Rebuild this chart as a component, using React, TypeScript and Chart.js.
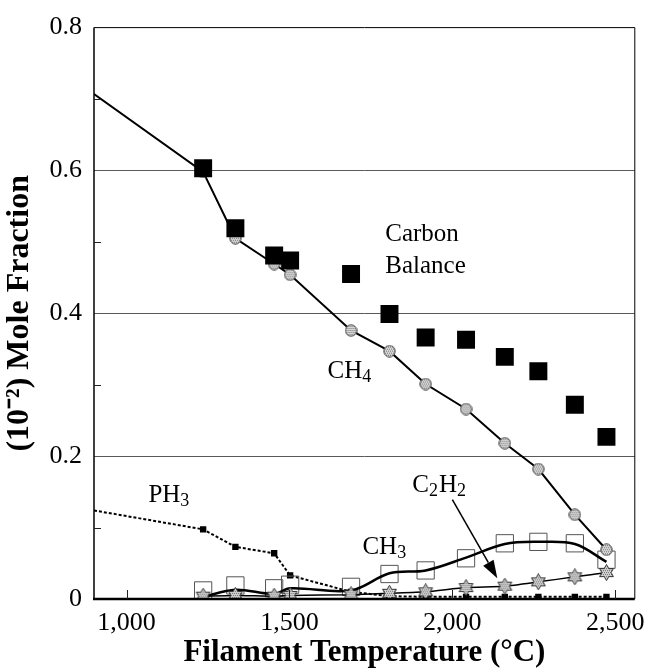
import React, { useEffect, useRef } from 'react';
import { Chart, registerables } from 'chart.js';

Chart.register(...registerables);

// ---------- data ----------
const TEMPERATURES = [1235, 1334, 1453, 1502, 1689, 1807, 1918, 2042, 2161, 2264, 2376, 2473];
const CARBON_BALANCE = [0.603, 0.519, 0.481, 0.474, 0.455, 0.399, 0.366, 0.363, 0.339, 0.319, 0.272, 0.227];
const CH4 = [0.598, 0.505, 0.469, 0.454, 0.376, 0.347, 0.301, 0.266, 0.218, 0.182, 0.118, 0.069];
const CH4_EXTRAPOLATED_T = 900;
const CH4_EXTRAPOLATED_V = 0.707;
const PH3 = [0.0975, 0.073, 0.064, 0.033, 0.010, 0.004, 0.003, 0.003, 0.003, 0.003, 0.003, 0.003];
const PH3_EXTRAPOLATED_T = 900;
const PH3_EXTRAPOLATED_V = 0.124;
const CH3 = [0.012, 0.019, 0.015, 0.020, 0.017, 0.035, 0.040, 0.057, 0.078, 0.080, 0.078, 0.055];
const CH3_CURVE = [0.003, 0.013, 0.007, 0.015, 0.012, 0.036, 0.040, 0.058, 0.077, 0.080, 0.077, 0.052];
const C2H2 = [0.004, 0.005, 0.004, 0.005, 0.006, 0.008, 0.010, 0.016, 0.018, 0.024, 0.031, 0.037];

const X_TICKS = [1000, 1500, 2000, 2500];
const Y_TICKS = [0, 0.2, 0.4, 0.6, 0.8];
const Y_MINOR_TICKS = [0.1, 0.3, 0.5, 0.7];

const X_TITLE = 'Filament Temperature (°C)';
const Y_TITLE = '(10⁻²) Mole Fraction';

// text labels: [text, isSubscript] pieces, anchored (left, middle) in data units
const LABELS = [
  { parts: [['Carbon', false]], t: 1794, v: 0.51 },
  { parts: [['Balance', false]], t: 1794, v: 0.466 },
  { parts: [['CH', false], ['4', true]], t: 1617, v: 0.319 },
  { parts: [['PH', false], ['3', true]], t: 1067, v: 0.145 },
  { parts: [['CH', false], ['3', true]], t: 1724, v: 0.072 },
  { parts: [['C', false], ['2', true], ['H', false], ['2', true]], t: 1877, v: 0.159 },
];
const ARROW = { fromT: 2000, fromV: 0.139, toT: 2138, toV: 0.029 };

const SERIF = '"Liberation Serif", "Times New Roman", serif';

function stipple(g: CanvasRenderingContext2D, size: number, dark: string) {
  g.fillStyle = dark;
  for (let y = 0; y < size; y += 2) {
    for (let x = (y / 2) % 2 === 0 ? 0 : 1; x < size; x += 2) g.fillRect(x, y, 1, 1);
  }
}

function makeStar(size: number) {
  const c = document.createElement('canvas');
  c.width = size;
  c.height = size;
  const g = c.getContext('2d')!;
  const cx = size / 2, cy = size / 2, R = size / 2 - 0.5, r = R / Math.sqrt(3);
  g.beginPath();
  for (let i = 0; i < 12; i++) {
    const a = -Math.PI / 2 + (i * Math.PI) / 6;
    const rad = i % 2 === 0 ? R : r;
    g.lineTo(cx + rad * Math.cos(a), cy + rad * Math.sin(a));
  }
  g.closePath();
  g.fillStyle = '#d0d0d0';
  g.fill();
  g.save();
  g.clip();
  stipple(g, size, '#707070');
  g.restore();
  g.strokeStyle = '#333';
  g.lineWidth = 1;
  g.stroke();
  return c;
}

function makeCircle(size: number) {
  const c = document.createElement('canvas');
  c.width = size;
  c.height = size;
  const g = c.getContext('2d')!;
  g.beginPath();
  g.arc(size / 2, size / 2, size / 2 - 0.8, 0, Math.PI * 2);
  g.fillStyle = '#d6d6d6';
  g.fill();
  g.save();
  g.clip();
  stipple(g, size, '#7a7a7a');
  g.restore();
  g.strokeStyle = '#444';
  g.lineWidth = 1;
  g.stroke();
  return c;
}

const decorPlugin = {
  id: 'decor',
  afterDatasetsDraw(chart: any) {
    const { ctx, chartArea, scales } = chart;
    const xs = scales.x, ys = scales.y;
    ctx.save();
    // frame
    ctx.strokeStyle = '#000';
    ctx.lineWidth = 1;
    ctx.beginPath();
    ctx.moveTo(chartArea.left, chartArea.top);
    ctx.lineTo(chartArea.right, chartArea.top);
    ctx.lineTo(chartArea.right, chartArea.bottom);
    ctx.stroke();
    ctx.lineWidth = 1.5;
    ctx.beginPath();
    ctx.moveTo(chartArea.left, chartArea.top);
    ctx.lineTo(chartArea.left, chartArea.bottom);
    ctx.stroke();
    ctx.lineWidth = 2.5;
    ctx.beginPath();
    ctx.moveTo(chartArea.left - 1, chartArea.bottom);
    ctx.lineTo(chartArea.right, chartArea.bottom);
    ctx.stroke();
    // inward ticks
    ctx.lineWidth = 1;
    ctx.strokeStyle = '#222';
    ctx.beginPath();
    for (const v of Y_MINOR_TICKS) {
      const y = Math.round(ys.getPixelForValue(v)) + 0.5;
      ctx.moveTo(chartArea.left, y);
      ctx.lineTo(chartArea.left + 7, y);
    }
    for (const t of X_TICKS) {
      const x = Math.round(xs.getPixelForValue(t)) + 0.5;
      ctx.moveTo(x, chartArea.bottom);
      ctx.lineTo(x, chartArea.bottom - 9);
    }
    ctx.stroke();

    // labels
    ctx.fillStyle = '#000';
    ctx.textBaseline = 'middle';
    ctx.textAlign = 'left';
    for (const lab of LABELS) {
      let x = xs.getPixelForValue(lab.t);
      const y = ys.getPixelForValue(lab.v);
      for (const [txt, sub] of lab.parts as [string, boolean][]) {
        ctx.font = sub ? `18px ${SERIF}` : `25px ${SERIF}`;
        ctx.fillText(txt, x, sub ? y + 6 : y);
        x += ctx.measureText(txt).width + (sub ? 1 : 0);
      }
    }

    // arrow
    const x1 = xs.getPixelForValue(ARROW.fromT), y1 = ys.getPixelForValue(ARROW.fromV);
    const x2 = xs.getPixelForValue(ARROW.toT), y2 = ys.getPixelForValue(ARROW.toV);
    const ang = Math.atan2(y2 - y1, x2 - x1);
    const headLen = 18, headW = 6;
    const bx = x2 - headLen * Math.cos(ang), by = y2 - headLen * Math.sin(ang);
    ctx.strokeStyle = '#000';
    ctx.lineWidth = 1.5;
    ctx.beginPath();
    ctx.moveTo(x1, y1);
    ctx.lineTo(bx, by);
    ctx.stroke();
    ctx.beginPath();
    ctx.moveTo(x2, y2);
    ctx.lineTo(bx + headW * Math.sin(ang), by - headW * Math.cos(ang));
    ctx.lineTo(bx - headW * Math.sin(ang), by + headW * Math.cos(ang));
    ctx.closePath();
    ctx.fill();
    ctx.restore();
  },
};

export default function App() {
  const ref = useRef<HTMLCanvasElement | null>(null);

  useEffect(() => {
    if (!ref.current) return;
    const star = makeStar(17);
    const circle = makeCircle(13);
    const pts = (vals: number[]) => TEMPERATURES.map((t, i) => ({ x: t, y: vals[i] }));

    const chart = new Chart(ref.current, {
      type: 'scatter',
      data: {
        datasets: [
          {
            label: 'Carbon Balance',
            data: pts(CARBON_BALANCE),
            showLine: false,
            pointStyle: 'rect',
            pointRadius: 12.7,
            backgroundColor: '#000',
            borderColor: '#000',
            borderWidth: 0,
          },
          {
            label: 'CH4',
            data: [{ x: CH4_EXTRAPOLATED_T, y: CH4_EXTRAPOLATED_V }, ...pts(CH4)],
            showLine: true,
            borderColor: '#000',
            borderWidth: 2,
            pointStyle: circle as any,
            pointRadius: (c: any) => (c.dataIndex === 0 ? 0 : 6),
            tension: 0,
          },
          {
            label: 'C2H2',
            data: pts(C2H2),
            showLine: true,
            borderColor: '#000',
            borderWidth: 1.5,
            pointStyle: star as any,
            pointRadius: 8,
            tension: 0.2,
          },
          {
            label: 'CH3 curve',
            data: pts(CH3_CURVE),
            showLine: true,
            borderColor: '#000',
            borderWidth: 2.5,
            pointRadius: 0,
            tension: 0.35,
          },
          {
            label: 'CH3',
            data: pts(CH3),
            showLine: false,
            pointStyle: 'rect',
            pointRadius: 12.2,
            backgroundColor: 'rgba(0,0,0,0)',
            borderColor: '#555',
            borderWidth: 1,
          },
          {
            label: 'PH3',
            data: [{ x: PH3_EXTRAPOLATED_T, y: PH3_EXTRAPOLATED_V }, ...pts(PH3)],
            showLine: true,
            borderColor: '#000',
            borderWidth: 2,
            borderDash: [3, 2],
            pointStyle: 'rect',
            pointRadius: (c: any) => (c.dataIndex === 0 ? 0 : 4.5),
            backgroundColor: '#000',
            pointBorderWidth: 0,
            tension: 0,
          },
        ],
      },
      options: {
        responsive: false,
        animation: false,
        events: [],
        layout: { padding: { top: 19, right: 12, left: 0, bottom: 0 } },
        plugins: { legend: { display: false }, tooltip: { enabled: false } },
        scales: {
          x: {
            type: 'linear',
            min: 900,
            max: 2560,
            afterBuildTicks: (s: any) => {
              s.ticks = X_TICKS.map((v) => ({ value: v }));
            },
            afterFit: (s: any) => {
              s.height = 72;
              s.paddingRight = 0;
              s.paddingLeft = 0;
            },
            grid: { display: false, drawTicks: false },
            border: { display: false },
            ticks: {
              color: '#000',
              padding: 9,
              maxRotation: 0,
              font: { family: SERIF, size: 26 },
              callback: (v: any) => Number(v).toLocaleString('en-US'),
            },
            title: {
              display: true,
              text: X_TITLE,
              color: '#000',
              padding: { top: 0, bottom: -1 },
              font: { family: SERIF, size: 31, weight: 'bold' },
            },
          },
          y: {
            type: 'linear',
            min: 0,
            max: 0.8,
            afterBuildTicks: (s: any) => {
              s.ticks = Y_TICKS.map((v) => ({ value: v }));
            },
            afterFit: (s: any) => {
              s.width = 94;
            },
            grid: {
              drawTicks: false,
              color: (c: any) =>
                c.tick && (c.tick.value === 0 || Math.abs(c.tick.value - 0.8) < 1e-9) ? 'rgba(0,0,0,0)' : '#5a5a5a',
              lineWidth: 1,
            },
            border: { display: false },
            ticks: {
              color: '#000',
              padding: 12,
              font: { family: SERIF, size: 26 },
              callback: (v: any) => (Number(v) === 0 ? '0' : Number(v).toFixed(1)),
            },
            title: {
              display: true,
              text: Y_TITLE,
              color: '#000',
              padding: { top: 1, bottom: 0 },
              font: { family: SERIF, size: 32, weight: 'bold' },
            },
          },
        },
      },
      plugins: [decorPlugin],
    } as any);

    return () => chart.destroy();
  }, []);

  return (
    <div style={{ position: 'fixed', left: 0, top: 0, width: 648, height: 671, background: '#fff' }}>
      <canvas ref={ref} width={648} height={671} style={{ display: 'block' }} />
    </div>
  );
}
